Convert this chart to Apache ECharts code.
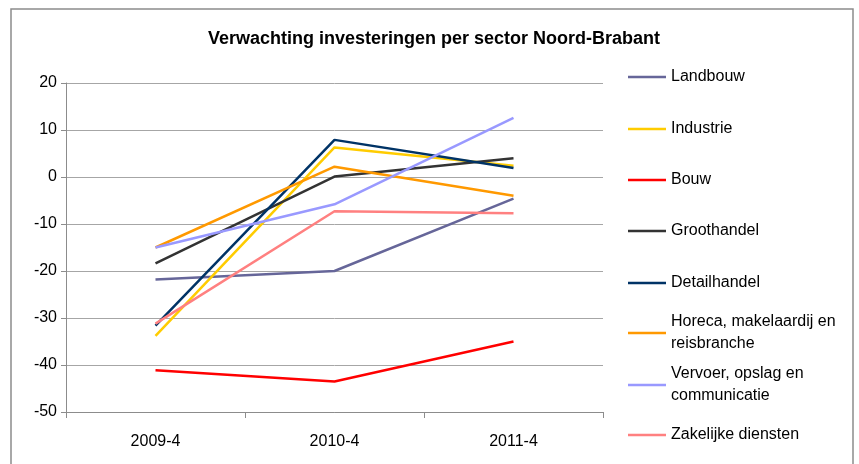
<!DOCTYPE html>
<html>
<head>
<meta charset="utf-8">
<script src="https://cdn.jsdelivr.net/npm/echarts@6/dist/echarts.min.js"></script>
<style>
  html, body { margin: 0; padding: 0; background: #fff; }
  #chart { width: 859px; height: 464px; }
</style>
</head>
<body>
<div id="chart"></div>
<script>
// data
const categories = ['2009-4', '2010-4', '2011-4'];
const sectorNames = [
  'Landbouw',
  'Industrie',
  'Bouw',
  'Groothandel',
  'Detailhandel',
  'Horeca, makelaardij en reisbranche',
  'Vervoer, opslag en communicatie',
  'Zakelijke diensten',
];
const landbouw = [-21.8, -20, -4.6];
const industrie = [-33.8, 6.3, 2.4];
const bouw = [-41.1, -43.5, -35];
const groothandel = [-18.4, 0.1, 4];
const detailhandel = [-31.6, 7.9, 1.9];
const horeca = [-15, 2.2, -4];
const vervoer = [-15, -5.8, 12.6];
const zakelijk = [-31.2, -7.3, -7.7];
const seriesValues = [landbouw, industrie, bouw, groothandel, detailhandel, horeca, vervoer, zakelijk];

// Excel 2003 palette
const colors = ['#666699', '#FFCC00', '#FF0000', '#333333', '#003366', '#FF9900', '#9999FF', '#FF8080'];
// wrapped legend labels
const wrapped = {
  'Horeca, makelaardij en reisbranche': 'Horeca, makelaardij en\nreisbranche',
  'Vervoer, opslag en communicatie': 'Vervoer, opslag en\ncommunicatie',
};
// icon centre y for each legend entry
const legendCentres = [77, 129, 180, 231, 283, 333, 385, 435];

const font = 'Liberation Sans';
const chart = echarts.init(document.getElementById('chart'));

const legends = sectorNames.map((name, i) => {
  const twoLine = !!wrapped[name];
  return {
    data: [name],
    orient: 'vertical',
    left: 628,
    top: legendCentres[i] - (twoLine ? 33 : 10),
    padding: 0,
    icon: 'rect',
    itemWidth: 38,
    itemHeight: 2.5,
    itemGap: 0,
    selectedMode: false,
    formatter: (n) => wrapped[n] || n,
    textStyle: {
      color: '#000',
      fontSize: 16,
      fontFamily: font,
      lineHeight: twoLine ? 22 : 20,
      padding: twoLine ? [22, 0, 0, 0] : 0,
    },
  };
});

chart.setOption({
  animation: false,
  title: {
    text: 'Verwachting investeringen per sector Noord-Brabant',
    left: 429,
    textAlign: 'center',
    top: 25,
    textStyle: { fontSize: 18, fontWeight: 'bold', color: '#000', fontFamily: font },
  },
  legend: legends,
  grid: { left: 66, right: 256, top: 83, bottom: 52 },
  xAxis: {
    type: 'category',
    data: categories,
    boundaryGap: true,
    axisLine: { onZero: false, lineStyle: { color: '#8C8C8C', width: 1 } },
    axisTick: { show: true, length: 6, lineStyle: { color: '#8C8C8C' } },
    axisLabel: { color: '#000', fontSize: 16, fontFamily: font, margin: 22 },
  },
  yAxis: {
    type: 'value',
    min: -50,
    max: 20,
    interval: 10,
    axisLine: { show: true, lineStyle: { color: '#8C8C8C', width: 1 } },
    axisTick: { show: true, length: 5, lineStyle: { color: '#8C8C8C' } },
    axisLabel: { color: '#000', fontSize: 16, fontFamily: font, margin: 9 },
    splitLine: { lineStyle: { color: '#A6A6A6', width: 1 } },
  },
  graphic: [{
    type: 'rect',
    shape: { x: 11, y: 9, width: 842, height: 470 },
    style: { fill: 'none', stroke: '#8C8C8C', lineWidth: 1.5 },
    silent: true,
  }],
  series: sectorNames.map((name, i) => ({
    name: name,
    type: 'line',
    data: seriesValues[i],
    symbol: 'none',
    color: colors[i],
    lineStyle: { color: colors[i], width: 2.5 },
  })),
});
</script>
</body>
</html>
